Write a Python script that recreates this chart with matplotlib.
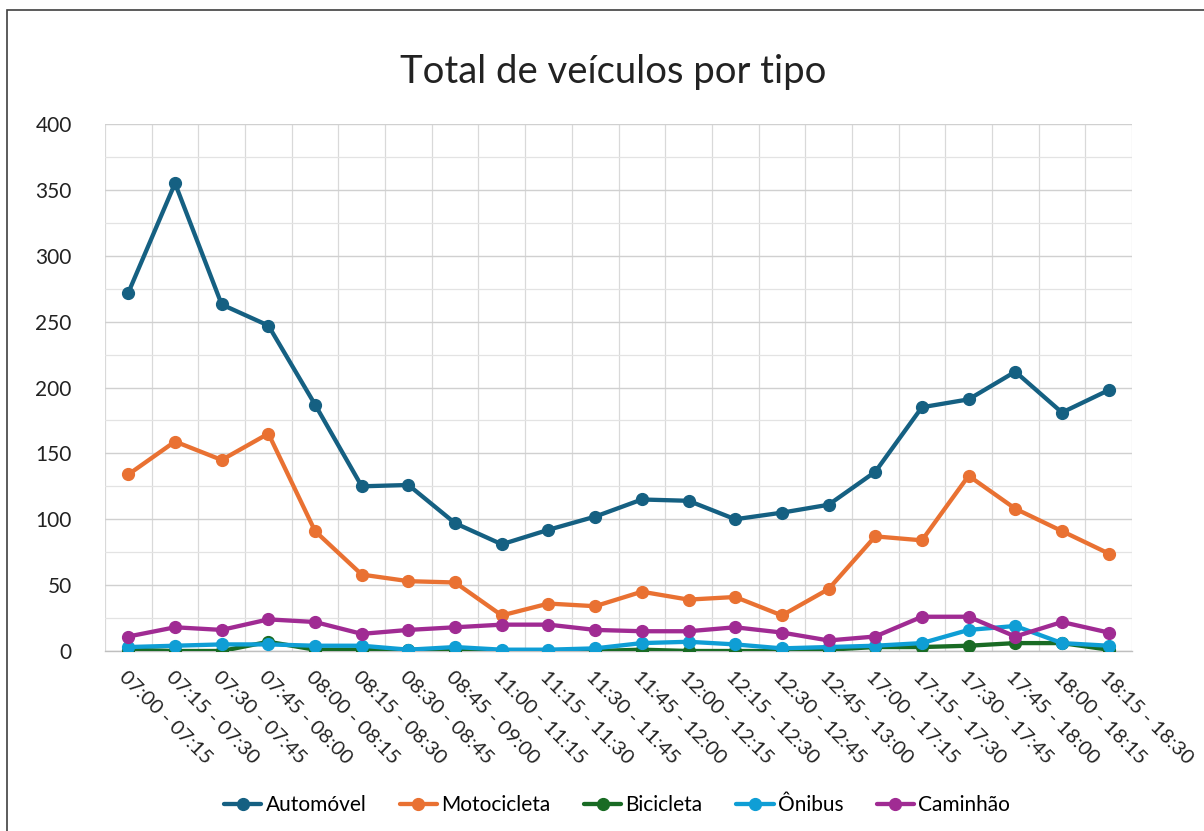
import matplotlib
matplotlib.use("Agg")
import matplotlib.pyplot as plt
from matplotlib.patches import Rectangle
from matplotlib.ticker import MultipleLocator

categories = ["07:00 - 07:15", "07:15 - 07:30", "07:30 - 07:45", "07:45 - 08:00",
              "08:00 - 08:15", "08:15 - 08:30", "08:30 - 08:45", "08:45 - 09:00",
              "11:00 - 11:15", "11:15 - 11:30", "11:30 - 11:45", "11:45 - 12:00",
              "12:00 - 12:15", "12:15 - 12:30", "12:30 - 12:45", "12:45 - 13:00",
              "17:00 - 17:15", "17:15 - 17:30", "17:30 - 17:45", "17:45 - 18:00",
              "18:00 - 18:15", "18:15 - 18:30"]

automovel = [272, 355, 263, 247, 187, 125, 126, 97, 81, 92, 102, 115, 114, 100, 105, 111,
             136, 185, 191, 212, 181, 198]
motocicleta = [134, 159, 145, 165, 91, 58, 53, 52, 27, 36, 34, 45, 39, 41, 27, 47,
               87, 84, 133, 108, 91, 74]
bicicleta = [1, 0, 0, 7, 1, 1, 1, 1, 0, 0, 0, 1, 0, 0, 0, 1, 3, 3, 4, 6, 6, 1]
onibus = [3, 4, 5, 5, 4, 4, 1, 3, 1, 1, 2, 6, 7, 5, 2, 3, 4, 6, 16, 19, 6, 4]
caminhao = [11, 18, 16, 24, 22, 13, 16, 18, 20, 20, 16, 15, 15, 18, 14, 8, 11, 26, 26, 11, 22, 14]

series = [("Automóvel", automovel, "#156082"),
          ("Motocicleta", motocicleta, "#E97132"),
          ("Bicicleta", bicicleta, "#196B24"),
          ("Ônibus", onibus, "#0F9ED5"),
          ("Caminhão", caminhao, "#A02B93")]

plt.rcParams['font.family'] = ['Lato', 'DejaVu Sans']

W, H = 1204, 831
fig = plt.figure(figsize=(W / 100, H / 100), dpi=100)
fig.patch.set_facecolor("white")

# chart border
fig.add_artist(Rectangle((7 / W, -0.05), 1.2, 1 - 10 / H + 0.05, transform=fig.transFigure,
                         fill=False, edgecolor="#404040", linewidth=1.2))

ax = fig.add_axes([105 / W, 1 - 651 / H, 1027 / W, 527 / H])
x = list(range(len(categories)))
for name, vals, col in series:
    ax.plot(x, vals, color=col, linewidth=3.1, marker="o", markersize=8.5,
            label=name, solid_capstyle="round", zorder=3)

ax.set_xlim(-0.5, len(categories) - 0.5)
ax.set_ylim(0, 400)
ax.yaxis.set_major_locator(MultipleLocator(50))
ax.yaxis.set_minor_locator(MultipleLocator(25))
ax.grid(axis="y", which="major", color="#d0d0d0", linewidth=1.0, zorder=0)
ax.grid(axis="y", which="minor", color="#e3e3e3", linewidth=0.9, zorder=0)
for b in range(len(categories) + 1):
    ax.axvline(b - 0.5, color="#d9d9d9", linewidth=0.9, zorder=0)

for s in ["top", "right", "left"]:
    ax.spines[s].set_visible(False)
ax.spines["bottom"].set_color("#bfbfbf")
ax.spines["bottom"].set_linewidth(1.0)

ax.set_xticks(x)
ax.set_xticklabels(categories, rotation=-45, ha="left", va="top",
                   rotation_mode="anchor", fontsize=14.7, color="#222222")
ax.tick_params(axis="x", length=0, pad=12)
ax.tick_params(axis="y", which="both", length=0, pad=24, labelsize=15, labelcolor="#222222")

fig.text(613 / W, 1 - 72 / H, "Total de veículos por tipo", ha="center", va="center",
         fontsize=27.5, color="#222222")

handles, labels = ax.get_legend_handles_labels()
fig.legend(handles, labels, loc="center", bbox_to_anchor=(617 / W, 1 - 805 / H), ncol=5,
           frameon=False, fontsize=15, handlelength=1.8, columnspacing=1.6,
           handletextpad=0.2)

fig.savefig("out.png", dpi=100, facecolor="white")
